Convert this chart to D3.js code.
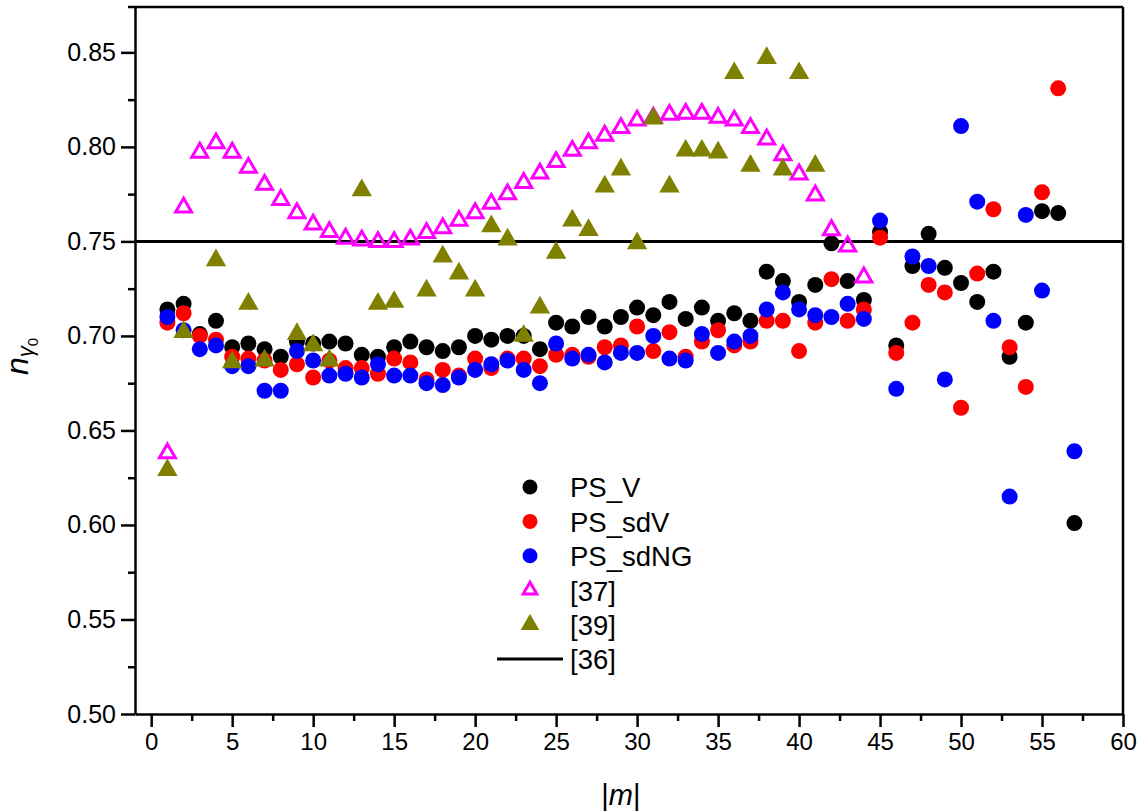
<!DOCTYPE html>
<html>
<head>
<meta charset="utf-8">
<script src="https://cdn.jsdelivr.net/npm/d3@7"></script>
<style>
  body { margin: 0; background: #fff; }
  svg { display: block; }
  text { font-family: "Liberation Sans", Arial, sans-serif; fill: #000; }
</style>
</head>
<body>
<svg id="chart" width="1145" height="812"></svg>
<script>
// |m| values (mode index)
const mValues = [1,2,3,4,5,6,7,8,9,10,11,12,13,14,15,16,17,18,19,20,
  21,22,23,24,25,26,27,28,29,30,31,32,33,34,35,36,37,38,39,40,
  41,42,43,44,45,46,47,48,49,50,51,52,53,54,55,56,57];

// PS_V
const psV = [0.714,0.717,0.701,0.708,0.694,0.696,0.693,0.689,0.697,0.696,
  0.697,0.696,0.690,0.689,0.694,0.697,0.694,0.692,0.694,0.700,
  0.698,0.700,0.700,0.693,0.707,0.705,0.710,0.705,0.710,0.715,
  0.711,0.718,0.709,0.715,0.708,0.712,0.708,0.734,0.729,0.718,
  0.727,0.749,0.729,0.719,0.755,0.695,0.737,0.754,0.736,0.728,
  0.718,0.734,0.689,0.707,0.766,0.765,0.601];

// PS_sdV
const psSdV = [0.707,0.712,0.700,0.698,0.689,0.688,0.687,0.682,0.685,0.678,
  0.687,0.683,0.683,0.680,0.688,0.686,0.677,0.682,0.679,0.688,
  0.683,0.688,0.688,0.684,0.690,0.690,0.689,0.694,0.695,0.705,
  0.692,0.702,0.689,0.697,0.703,0.695,0.697,0.708,0.708,0.692,
  0.707,0.730,0.708,0.714,0.752,0.691,0.707,0.727,0.723,0.662,
  0.733,0.767,0.694,0.673,0.776,0.831,null];

// PS_sdNG
const psSdNG = [0.710,0.703,0.693,0.695,0.684,0.684,0.671,0.671,0.692,0.687,
  0.679,0.680,0.678,0.685,0.679,0.679,0.675,0.674,0.678,0.682,
  0.685,0.687,0.682,0.675,0.696,0.688,0.690,0.686,0.691,0.691,
  0.700,0.688,0.687,0.701,0.691,0.697,0.700,0.714,0.723,0.714,
  0.711,0.710,0.717,0.709,0.761,0.672,0.742,0.737,0.677,0.811,
  0.771,0.708,0.615,0.764,0.724,null,0.639];

// [37], |m| = 1..44
const ref37 = [0.638,0.768,0.797,0.802,0.797,0.789,0.780,0.772,0.765,0.759,
  0.755,0.7515,0.7505,0.7497,0.7497,0.751,0.7545,0.757,0.761,0.765,
  0.770,0.775,0.781,0.786,0.792,0.798,0.802,0.806,0.810,0.814,
  0.8155,0.817,0.8176,0.8176,0.8155,0.814,0.810,0.804,0.7956,0.7855,
  0.7744,0.756,0.7474,0.731];

// [39], |m| = 1..41 (no values at 3, 8, 12, 16)
const ref39 = [0.629,0.702,null,0.740,0.686,0.717,0.687,null,0.701,0.695,
  0.687,null,0.777,0.717,0.718,null,0.724,0.742,0.733,0.724,
  0.758,0.751,0.700,0.715,0.744,0.761,0.756,0.779,0.788,0.749,
  0.815,0.779,0.798,0.798,0.797,0.839,0.790,0.847,0.788,0.839,
  0.790];

// [36], constant level
const ref36 = 0.75;

const xTicks = [0,5,10,15,20,25,30,35,40,45,50,55,60];
const yTicks = [0.50,0.55,0.60,0.65,0.70,0.75,0.80,0.85];

const svg = d3.select("#chart");
const plotLeft = 135, plotRight = 1123, plotTop = 7, plotBottom = 714;

const x = d3.scaleLinear().domain([-1, 60]).range([plotLeft, plotRight]);
const y = d3.scaleLinear().domain([0.5, 0.874]).range([plotBottom, plotTop]);

// minor ticks
const xMinor = d3.range(2.5, 60, 5);
const yMinor = d3.range(0.525, 0.874, 0.05);

// axes
const gx = svg.append("g").attr("transform", `translate(0,${plotBottom})`)
  .call(d3.axisBottom(x).tickValues(xTicks).tickFormat(d3.format("d"))
    .tickSizeInner(13).tickSizeOuter(0).tickPadding(6));
svg.append("g").attr("transform", `translate(0,${plotBottom})`)
  .call(d3.axisBottom(x).tickValues(xMinor).tickSize(7).tickFormat(""))
  .call(g => g.select(".domain").remove());

const gy = svg.append("g").attr("transform", `translate(${plotLeft},0)`)
  .call(d3.axisLeft(y).tickValues(yTicks).tickFormat(d3.format(".2f"))
    .tickSizeInner(14).tickSizeOuter(0).tickPadding(5));
svg.append("g").attr("transform", `translate(${plotLeft},0)`)
  .call(d3.axisLeft(y).tickValues(yMinor).tickSize(7).tickFormat(""))
  .call(g => g.select(".domain").remove());

svg.selectAll(".domain").attr("stroke", "#000").attr("stroke-width", 2.5);
svg.selectAll(".tick line").attr("stroke", "#000").attr("stroke-width", 2.5);
gx.selectAll(".tick text").attr("font-size", 24).attr("font-family", "Liberation Sans, Arial, sans-serif");
gy.selectAll(".tick text").attr("font-size", 25).attr("font-family", "Liberation Sans, Arial, sans-serif");

// frame: top and right edges
svg.append("line").attr("x1", plotLeft - 7).attr("x2", plotRight).attr("y1", plotTop).attr("y2", plotTop)
  .attr("stroke", "#000").attr("stroke-width", 2.5);
svg.append("line").attr("x1", plotRight).attr("x2", plotRight).attr("y1", plotTop).attr("y2", plotBottom)
  .attr("stroke", "#000").attr("stroke-width", 2.5);

// reference level [36]
svg.append("line").attr("x1", plotLeft).attr("x2", plotRight)
  .attr("y1", y(ref36)).attr("y2", y(ref36))
  .attr("stroke", "#000").attr("stroke-width", 3);

const pts = arr => arr.map((v, i) => ({m: mValues[i], v})).filter(d => d.v != null);

const circleSeries = [
  {data: psV, color: "#000000"},
  {data: psSdV, color: "#ff0000"},
  {data: psSdNG, color: "#0000ff"}
];
circleSeries.forEach(s => {
  svg.append("g").selectAll("circle").data(pts(s.data)).join("circle")
    .attr("cx", d => x(d.m)).attr("cy", d => y(d.v)).attr("r", 8)
    .attr("fill", s.color);
});

const triOpen = d3.symbol(d3.symbolTriangle, 110);
const triFill = d3.symbol(d3.symbolTriangle, 180);

svg.append("g").selectAll("path").data(pts(ref37)).join("path")
  .attr("transform", d => `translate(${x(d.m)},${y(d.v)})`)
  .attr("d", triOpen).attr("fill", "none")
  .attr("stroke", "#ff00ff").attr("stroke-width", 3);

svg.append("g").selectAll("path").data(pts(ref39)).join("path")
  .attr("transform", d => `translate(${x(d.m)},${y(d.v)})`)
  .attr("d", triFill).attr("fill", "#808000");

// legend
const legend = svg.append("g");
const legendItems = [
  {label: "PS_V", kind: "circle", color: "#000000"},
  {label: "PS_sdV", kind: "circle", color: "#ff0000"},
  {label: "PS_sdNG", kind: "circle", color: "#0000ff"},
  {label: "[37]", kind: "open", color: "#ff00ff"},
  {label: "[39]", kind: "fill", color: "#808000"},
  {label: "[36]", kind: "line", color: "#000000"}
];
legendItems.forEach((it, i) => {
  const cy = 487 + i * 34.4;
  const g = legend.append("g");
  if (it.kind === "circle") {
    g.append("circle").attr("cx", 530).attr("cy", cy).attr("r", 7.5).attr("fill", it.color);
  } else if (it.kind === "open") {
    g.append("path").attr("transform", `translate(530,${cy})`)
      .attr("d", d3.symbol(d3.symbolTriangle, 80)).attr("fill", "none")
      .attr("stroke", it.color).attr("stroke-width", 3);
  } else if (it.kind === "fill") {
    g.append("path").attr("transform", `translate(530,${cy})`)
      .attr("d", d3.symbol(d3.symbolTriangle, 150)).attr("fill", it.color);
  } else {
    g.append("line").attr("x1", 497).attr("x2", 563).attr("y1", cy).attr("y2", cy)
      .attr("stroke", it.color).attr("stroke-width", 3);
  }
  g.append("text").attr("x", 570).attr("y", cy).attr("dy", "0.38em")
    .attr("font-size", 27.5).text(it.label);
});

// axis titles
const yt = svg.append("text").attr("transform", "translate(28,375) rotate(-90)")
  .attr("text-anchor", "start");
yt.append("tspan").attr("font-style", "italic").attr("font-size", 32).text("n");
yt.append("tspan").attr("font-style", "italic").attr("font-size", 22).attr("dy", 5).text("γ");
yt.append("tspan").attr("font-size", 15).attr("dy", 5).text("0");

const xt = svg.append("text").attr("x", x(29)).attr("y", 805).attr("text-anchor", "middle")
  .attr("font-size", 29);
xt.append("tspan").text("|");
xt.append("tspan").attr("font-style", "italic").text("m");
xt.append("tspan").text("|");
</script>
</body>
</html>
